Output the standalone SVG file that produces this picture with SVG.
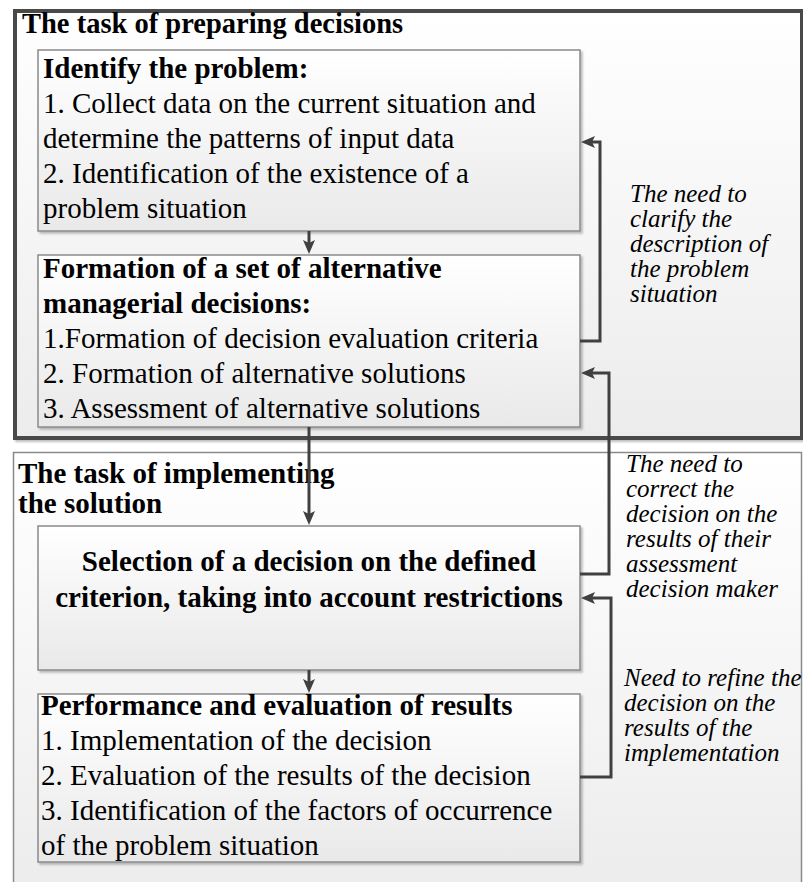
<svg xmlns="http://www.w3.org/2000/svg" width="803" height="882" viewBox="0 0 803 882" font-family="'Liberation Serif', Tinos, 'Times New Roman', serif">
  <style>
    text { font-family: "Liberation Serif", Tinos, "Times New Roman", serif; fill: #000; }
    .title { font-size: 28.5px; font-weight: bold; }
    .head { font-size: 29px; font-weight: bold; }
    .body { font-size: 29px; }
    .note { font-size: 25px; font-style: italic; }
    .box { fill: url(#boxFill); stroke: #8a8a8a; stroke-width: 1.5; filter: url(#shadow); }
    .frame { fill: url(#frameFill); }
    .conn { fill: none; stroke: #404040; stroke-width: 3; }
  </style>
  <defs>
    <linearGradient id="boxFill" x1="0" y1="0" x2="0" y2="1">
      <stop offset="0" stop-color="#ffffff"/>
      <stop offset="1" stop-color="#e9e9e9"/>
    </linearGradient>
    <linearGradient id="frameFill" x1="0" y1="0" x2="0" y2="1">
      <stop offset="0" stop-color="#ffffff"/>
      <stop offset="1" stop-color="#ececec"/>
    </linearGradient>
    <filter id="shadow" x="-5%" y="-5%" width="110%" height="115%">
      <feDropShadow dx="2" dy="2" stdDeviation="1.2" flood-color="#000" flood-opacity="0.25"/>
    </filter>
    <marker id="arrow" markerUnits="userSpaceOnUse" markerWidth="16" markerHeight="14" refX="3" refY="6" orient="auto">
      <path d="M0,0 L14,6 L0,12 L3,6 z" fill="#404040"/>
    </marker>
  </defs>

  <!-- background -->
  <rect x="0" y="0" width="803" height="882" fill="#ffffff"/>

  <!-- frame: preparing decisions -->
  <g id="frame-preparing">
    <rect class="frame" x="15" y="11" width="787" height="427" stroke="#4a4a4a" stroke-width="4" filter="url(#shadow)"/>
    <text class="title" x="22" y="33">The task of preparing decisions</text>
  </g>

  <!-- frame: implementing the solution -->
  <g id="frame-implementing">
    <rect class="frame" x="13.5" y="452.5" width="788" height="445" stroke="#8a8a8a" stroke-width="1.5"/>
    <text class="head" x="18" y="483">The task of implementing</text>
    <text class="head" x="18" y="513">the solution</text>
  </g>

  <!-- identify the problem -->
  <g id="node-identify">
    <rect class="box" x="38" y="50" width="542" height="181"/>
    <text class="head" x="43" y="78">Identify the problem:</text>
    <text class="body" x="43" y="113">1. Collect data on the current situation and</text>
    <text class="body" x="43" y="148">determine the patterns of input data</text>
    <text class="body" x="43" y="183">2. Identification of the existence of a</text>
    <text class="body" x="43" y="218">problem situation</text>
  </g>

  <!-- formation of alternatives -->
  <g id="node-formation">
    <rect class="box" x="38" y="255" width="542" height="172"/>
    <text class="head" x="43" y="278">Formation of a set of alternative</text>
    <text class="head" x="43" y="313">managerial decisions:</text>
    <text class="body" x="43" y="348">1.Formation of decision evaluation criteria</text>
    <text class="body" x="43" y="383">2. Formation of alternative solutions</text>
    <text class="body" x="43" y="418">3. Assessment of alternative solutions</text>
  </g>

  <!-- selection of a decision -->
  <g id="node-selection">
    <rect class="box" x="38" y="526" width="542" height="144"/>
    <text class="head" x="309" y="571" text-anchor="middle">Selection of a decision on the defined</text>
    <text class="head" x="309" y="607" text-anchor="middle">criterion, taking into account restrictions</text>
  </g>

  <!-- performance and evaluation -->
  <g id="node-performance">
    <rect class="box" x="38" y="694" width="542" height="168"/>
    <text class="head" x="41" y="715">Performance and evaluation of results</text>
    <text class="body" x="41" y="750">1. Implementation of the decision</text>
    <text class="body" x="41" y="785">2. Evaluation of the results of the decision</text>
    <text class="body" x="41" y="820">3. Identification of the factors of occurrence</text>
    <text class="body" x="41" y="855">of the problem situation</text>
  </g>

  <!-- feedback notes -->
  <g id="note-clarify">
    <text class="note" x="630" y="202">The need to</text>
    <text class="note" x="630" y="227">clarify the</text>
    <text class="note" x="630" y="252">description of</text>
    <text class="note" x="630" y="277">the problem</text>
    <text class="note" x="630" y="302">situation</text>
  </g>
  <g id="note-correct">
    <text class="note" x="626" y="472">The need to</text>
    <text class="note" x="626" y="497">correct the</text>
    <text class="note" x="626" y="522">decision on the</text>
    <text class="note" x="626" y="547">results of their</text>
    <text class="note" x="626" y="572">assessment</text>
    <text class="note" x="626" y="597">decision maker</text>
  </g>
  <g id="note-refine">
    <text class="note" x="624" y="686">Need to refine the</text>
    <text class="note" x="624" y="711">decision on the</text>
    <text class="note" x="624" y="736">results of the</text>
    <text class="note" x="624" y="761">implementation</text>
  </g>

  <!-- connectors -->
  <g id="connectors">
    <path class="conn" d="M309,231 V243" marker-end="url(#arrow)"/>
    <path class="conn" d="M309,427 V514" marker-end="url(#arrow)"/>
    <path class="conn" d="M309,670 V682" marker-end="url(#arrow)"/>
    <path class="conn" d="M580,341 H600 V142 H592" marker-end="url(#arrow)"/>
    <path class="conn" d="M580,574 H609 V373 H592" marker-end="url(#arrow)"/>
    <path class="conn" d="M580,777 H611 V598 H592" marker-end="url(#arrow)"/>
  </g>
</svg>
